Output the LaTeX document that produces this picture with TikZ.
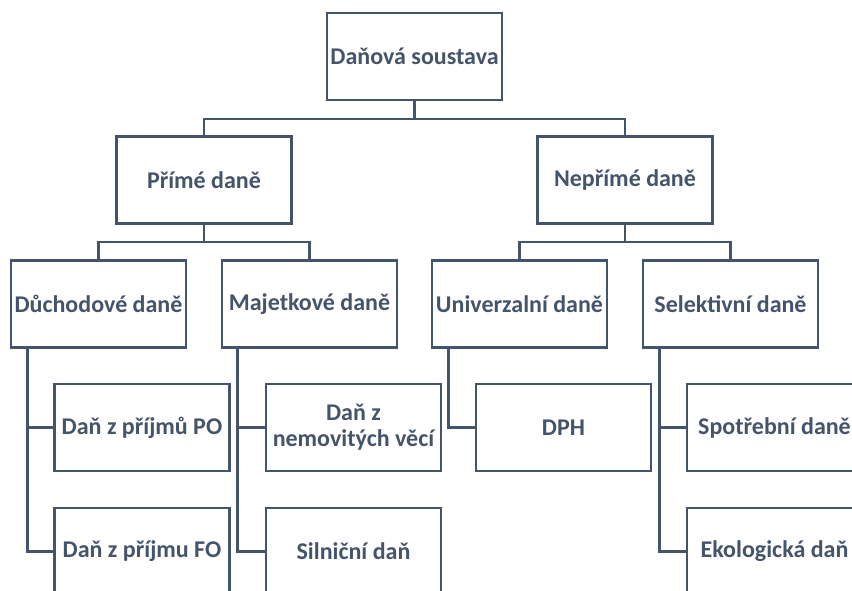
\documentclass[tikz,border=0pt]{standalone}
\usepackage{fontspec}
\setmainfont{Carlito}
\definecolor{slate}{HTML}{44546A}
\begin{document}
\begin{tikzpicture}[x=1pt,y=-1pt,
  box/.style={draw=slate, line width=2.9pt, fill=white, minimum width=175pt, minimum height=87pt,
    inner sep=0pt, align=center, text=slate, font=\fontsize{24}{26}\selectfont\bfseries},
  conn/.style={draw=slate, line width=2.9pt}]
\useasboundingbox (0,0) rectangle (852,590);
% top level
\node[box] (top) at (414.5,56.5) {Daňová soustava};
% level 1
\node[box] (prime) at (204,180) {Přímé daně};
\node[box] (neprime) at (625,180) {Nepřímé daně};
% level 2
\node[box] (duch) at (98.5,304) {Důchodové daně};
\node[box] (maj) at (309.5,304) {Majetkové daně};
\node[box] (univ) at (519.5,304) {Univerzalní daně};
\node[box] (sel) at (730.5,304) {Selektivní daně};
% level 3
\node[box] (po) at (142,427.5) {Daň z příjmů PO};
\node[box] (fo) at (142,551.5) {Daň z příjmu FO};
\node[box] (nem) at (353.5,427.5) {Daň z\\nemovitých věcí};
\node[box] (siln) at (353.5,551.5) {Silniční daň};
\node[box] (dph) at (563.5,427.5) {DPH};
\node[box] (spot) at (774.5,427.5) {Spotřební daně};
\node[box] (eko) at (774.5,551.5) {Ekologická daň};
% junctions
\coordinate (j0) at (414.5,119);
\coordinate (j1) at (204,242);
\coordinate (j2) at (625,242);
% connectors
\draw[conn] (top.south) -- (j0);
\draw[conn] (prime.north) |- (j0) -| (neprime.north);
\draw[conn] (prime.south) -- (j1);
\draw[conn] (duch.north) |- (j1) -| (maj.north);
\draw[conn] (neprime.south) -- (j2);
\draw[conn] (univ.north) |- (j2) -| (sel.north);
\draw[conn] ([xshift=18pt]duch.south west) |- (po.west);
\draw[conn] ([xshift=18pt]duch.south west) |- (fo.west);
\draw[conn] ([xshift=17pt]maj.south west) |- (nem.west);
\draw[conn] ([xshift=17pt]maj.south west) |- (siln.west);
\draw[conn] ([xshift=18pt]univ.south west) |- (dph.west);
\draw[conn] ([xshift=18pt]sel.south west) |- (spot.west);
\draw[conn] ([xshift=18pt]sel.south west) |- (eko.west);
\end{tikzpicture}
\end{document}
